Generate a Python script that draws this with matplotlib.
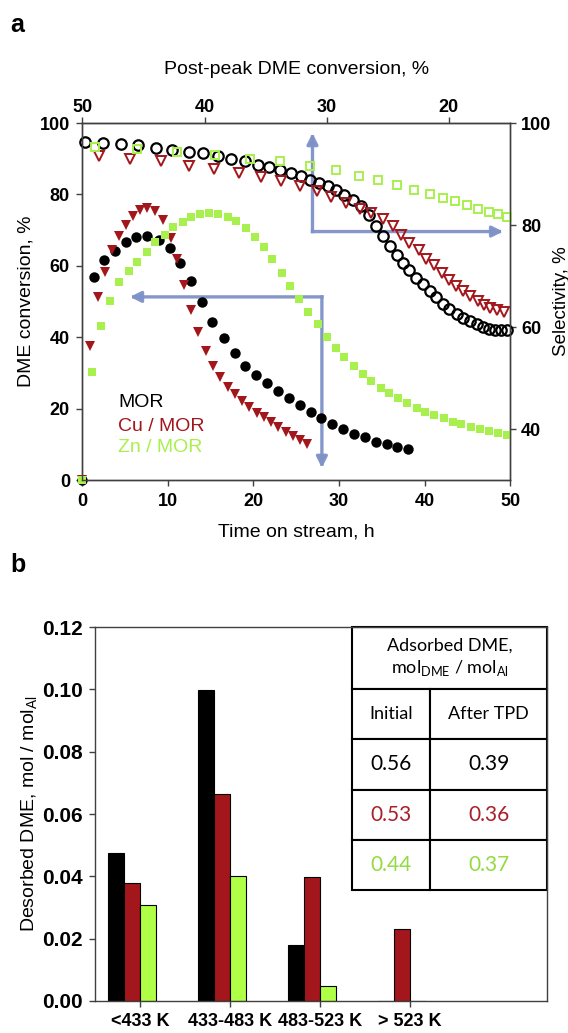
import numpy as np
import matplotlib
matplotlib.use("Agg")
import matplotlib.pyplot as plt

plt.rcParams['font.family'] = ['Liberation Sans', 'DejaVu Sans']

# ---------------- data: panel a ----------------
# DME conversion (%), filled markers
mor_t = [0, 1.3, 2.5, 3.8, 5.1, 6.3, 7.6, 8.9, 10.2, 11.4, 12.7, 14.0, 15.2, 16.5, 17.8,
         19.0, 20.3, 21.6, 22.9, 24.1, 25.4, 26.7, 27.9, 29.2, 30.5, 31.7, 33.0, 34.3,
         35.6, 36.8, 38.1]
mor_conv = [0, 57.0, 61.6, 64.2, 66.6, 68.0, 68.3, 67.2, 65.1, 60.9, 55.7, 49.9, 44.3, 39.7,
            35.5, 31.9, 29.4, 27.1, 24.9, 22.9, 21.0, 19.1, 17.3, 15.7, 14.2, 12.9, 12.0,
            10.7, 10.1, 9.3, 8.7]

cu_t = [0, 0.9, 1.8, 2.6, 3.5, 4.3, 5.1, 5.9, 6.7, 7.6, 8.5, 9.4, 10.3, 11.1, 11.9, 12.7,
        13.5, 14.4, 15.3, 16.1, 17.0, 17.8, 18.6, 19.5, 20.4, 21.2, 22.0, 22.9, 23.8,
        24.6, 25.4, 26.2]
cu_conv = [0, 37.5, 51.3, 58.4, 64.3, 68.3, 71.4, 74.0, 75.6, 76.1, 75.4, 72.8, 67.9, 61.8,
           54.5, 47.7, 41.4, 36.2, 31.9, 28.9, 26.1, 24.0, 22.1, 20.5, 18.9, 17.6, 16.3,
           14.9, 13.5, 12.3, 11.2, 10.1]

zn_t = [0, 1.1, 2.2, 3.2, 4.3, 5.4, 6.4, 7.5, 8.5, 9.6, 10.6, 11.7, 12.7, 13.8, 14.8, 15.9,
        17.0, 18.0, 19.1, 20.2, 21.2, 22.2, 23.3, 24.3, 25.3, 26.4, 27.5, 28.6, 29.6,
        30.6, 31.7, 32.8, 33.8, 34.9, 35.9, 36.9, 38.0, 39.1, 40.1, 41.1, 42.3, 43.3,
        44.3, 45.4, 46.5, 47.6, 48.6, 49.7]
zn_conv = [0, 30.3, 43.2, 50.2, 55.5, 58.6, 61.2, 63.8, 66.6, 68.7, 70.8, 72.4, 73.8, 74.4,
           74.7, 74.4, 73.8, 72.5, 70.5, 68.2, 65.4, 61.8, 58.1, 54.4, 50.6, 47.1, 43.6,
           40.1, 37.1, 34.4, 31.9, 29.7, 27.7, 25.9, 24.3, 22.9, 21.5, 20.3, 19.1, 18.2,
           17.3, 16.3, 15.7, 14.9, 14.3, 13.7, 13.1, 12.6]

# Selectivity (%), open markers
mor_sel_t = [0.3, 2.4, 4.5, 6.5, 8.6, 10.5, 12.4, 14.1, 15.9, 17.4, 19.0, 20.5, 21.8, 23.1,
             24.4, 25.5, 26.6, 27.7, 28.7, 29.6, 30.6, 31.6, 32.6, 33.5, 34.3, 35.2, 36.0,
             36.8, 37.5, 38.2, 39.0, 39.8, 40.6, 41.4, 42.2, 42.9, 43.8, 44.5, 45.3, 46.1,
             46.8, 47.5, 48.2, 48.9, 49.6]
mor_sel = [96.2, 96.0, 95.9, 95.6, 95.1, 94.8, 94.4, 94.1, 93.5, 93.0, 92.5, 91.8, 91.4,
           90.7, 90.2, 89.6, 88.9, 88.3, 87.6, 86.8, 85.8, 84.9, 83.7, 81.9, 79.9, 77.8,
           75.9, 74.2, 72.6, 71.2, 69.7, 68.4, 67.0, 65.8, 64.5, 63.6, 62.5, 61.7, 61.1,
           60.5, 60.1, 59.7, 59.5, 59.4, 59.4]

cu_sel_t = [1.9, 5.6, 9.2, 12.4, 15.4, 18.3, 20.9, 23.2, 25.4, 27.4, 29.1, 30.8, 32.4, 33.8,
            35.1, 36.3, 37.3, 38.2, 39.3, 40.2, 41.1, 42.0, 42.9, 43.7, 44.5, 45.3, 46.2,
            46.9, 47.7, 48.5, 49.3]
cu_sel = [93.5, 93.0, 92.5, 91.6, 91.0, 90.3, 89.4, 88.6, 87.6, 86.6, 85.5, 84.3, 83.2, 82.4,
          81.1, 79.8, 78.0, 76.5, 75.1, 73.4, 72.1, 70.6, 69.3, 68.1, 67.0, 66.1, 65.1,
          64.4, 63.8, 63.3, 63.0]

zn_sel_t = [1.5, 6.4, 11.0, 15.5, 19.6, 23.1, 26.6, 29.6, 32.3, 34.6, 36.8, 38.8, 40.6,
            42.2, 43.6, 45.0, 46.3, 47.6, 48.6, 49.6]
zn_sel = [95.3, 95.0, 94.4, 93.8, 93.0, 92.5, 91.5, 90.7, 89.7, 88.8, 87.9, 86.9, 86.0,
          85.3, 84.7, 83.9, 83.2, 82.6, 82.1, 81.6]

top_ticks = [50, 40, 30, 20]
left_ticks = [0, 20, 40, 60, 80, 100]
right_ticks = [40, 60, 80, 100]
bottom_ticks = [0, 10, 20, 30, 40, 50]
legend_names = ['MOR', 'Cu / MOR', 'Zn / MOR']

# ---------------- data: panel b ----------------
ranges = ['<433 K', '433-483 K', '483-523 K', '> 523 K']
des_mor = [0.0474, 0.0997, 0.0180, 0.0]
des_cu = [0.0380, 0.0664, 0.0399, 0.0231]
des_zn = [0.0308, 0.0401, 0.0049, 0.0]
des_yticks = [0, 0.02, 0.04, 0.06, 0.08, 0.10, 0.12]
table_header = 'Adsorbed DME,\nmol$_\\mathregular{DME}$ / mol$_\\mathregular{Al}$'
table_cols = ['Initial', 'After TPD']
ads_initial = ['0.56', '0.53', '0.44']
ads_after = ['0.39', '0.36', '0.37']

# ---------------- style ----------------
BLACK = '#000000'
RED = '#A3161B'
GREEN = '#A8F04E'
BAR_GREEN = '#AEFF45'
TXT_GREEN = '#93DB40'
ARROW = '#7F92C8'
SPINE = '#404040'

fig = plt.figure(figsize=(5.68, 10.33), dpi=100)

# ================= panel a =================
ax = fig.add_axes([0.1452, 0.5353, 0.7527, 0.3456])
ax.set_xlim(0, 50)
ax.set_ylim(0, 100)
ax2 = ax.twinx()
ax2.set_ylim(30, 100)

for a in (ax, ax2):
    for s in a.spines.values():
        s.set_color(SPINE)
        s.set_linewidth(1.0)

# arrows
apro = dict(arrowstyle='-|>', color=ARROW, lw=2.4, mutation_scale=16, alpha=0.95,
            shrinkA=0, shrinkB=0, capstyle='projecting')
ax.annotate('', xy=(5.55, 51.3), xytext=(28.0, 51.3), arrowprops=apro, zorder=1)
ax.annotate('', xy=(28.0, 3.4), xytext=(28.0, 51.3), arrowprops=apro, zorder=1)
ax.annotate('', xy=(26.9, 97.2), xytext=(26.9, 69.6), arrowprops=apro, zorder=1)
ax.annotate('', xy=(49.2, 69.6), xytext=(26.9, 69.6), arrowprops=apro, zorder=1)

ax.plot(mor_t, mor_conv, 'o', color=BLACK, ms=7.5, mew=0, clip_on=False, zorder=3)
ax.plot(cu_t, cu_conv, 'v', color=RED, ms=7.5, mew=0, clip_on=False, zorder=3)
ax.plot(zn_t, zn_conv, 's', color=GREEN, ms=5.8, mew=0, clip_on=False, zorder=3)

ax2.plot(mor_sel_t, mor_sel, 'o', mfc='none', mec=BLACK, ms=7.5, mew=1.6, clip_on=False)
ax2.plot(cu_sel_t, cu_sel, 'v', mfc='none', mec=RED, ms=7.5, mew=1.4, clip_on=False)
ax2.plot(zn_sel_t, zn_sel, 's', mfc='none', mec=GREEN, ms=6.3, mew=1.4, clip_on=False)

ax.set_xticks(bottom_ticks)
ax.set_yticks(left_ticks)
ax2.set_yticks(right_ticks)
tick_kw = dict(direction='out', length=4, width=1, color=SPINE, labelsize=13)
ax.tick_params(axis='both', pad=5, **tick_kw)
ax2.tick_params(axis='y', pad=4, **tick_kw)
for lab in ax.get_xticklabels() + ax.get_yticklabels() + ax2.get_yticklabels():
    lab.set_fontweight('bold')

secx = ax.secondary_xaxis('top', functions=(lambda t: 50 - 0.7 * t, lambda c: (50 - c) / 0.7))
secx.set_xticks(top_ticks)
secx.tick_params(axis='x', pad=1, **tick_kw)
secx.spines['top'].set_color(SPINE)
for lab in secx.get_xticklabels():
    lab.set_fontweight('bold')
secx.set_xlabel('Post-peak DME conversion, %', fontsize=14, labelpad=18)

ax.set_xlabel('Time on stream, h', fontsize=14, labelpad=10)
ax.set_ylabel('DME conversion, %', fontsize=14, labelpad=4)
ax2.set_ylabel('Selectivity, %', fontsize=13.5, labelpad=1)

for name, col, yv in zip(legend_names, [BLACK, RED, GREEN], [21.6, 14.9, 9.0]):
    ax.text(4.15, yv, name, color=col, fontsize=14, va='center', ha='left')

fig.text(0.018, 0.976, 'a', fontsize=18, fontweight='bold', va='center', ha='left')
fig.text(0.018, 0.453, 'b', fontsize=18, fontweight='bold', va='center', ha='left')

# ================= panel b =================
bx = fig.add_axes([0.1673, 0.031, 0.7958, 0.362])
x = np.arange(len(ranges))
w = 0.178
bx.bar(x - 1.5 * w, des_mor, w, align='center', color=BLACK, edgecolor='black', lw=0.8)
bx.bar(x - 0.5 * w, des_cu, w, align='center', color=RED, edgecolor='black', lw=0.8)
bx.bar(x + 0.5 * w, des_zn, w, align='center', color=BAR_GREEN, edgecolor='black', lw=0.8)
bx.set_xlim(-0.5, 4.52)
bx.set_ylim(0, 0.12)
bx.set_xticks(x)
bx.set_xticklabels(ranges, fontweight='bold', fontsize=13)
bx.set_yticks(des_yticks)
bx.set_yticklabels(['%.2f' % v for v in des_yticks], fontweight='bold', fontsize=15)
bx.tick_params(axis='both', direction='out', length=4, width=1, color=SPINE, pad=5)
for s in bx.spines.values():
    s.set_color(SPINE)
    s.set_linewidth(1.0)
bx.set_ylabel('Desorbed DME, mol / mol$_\\mathregular{Al}$', fontsize=14, labelpad=1)

TFONT = ['Lato', 'DejaVu Sans']
hdr = bx.table(cellText=[[table_header]], cellLoc='center',
               bbox=[0.5686, 0.834, 0.4314, 0.166])
hdr.auto_set_font_size(False)
for c in hdr.get_celld().values():
    c.set_linewidth(1.5)
    c.get_text().set_fontsize(13)
    c.get_text().set_fontfamily(TFONT)
    c.get_text().set_linespacing(1.3)

body_rows = [table_cols] + [[a, b] for a, b in zip(ads_initial, ads_after)]
body = bx.table(cellText=body_rows, cellLoc='center', colWidths=[0.4, 0.6],
                bbox=[0.5686, 0.297, 0.4314, 0.537])
body.auto_set_font_size(False)
row_cols = [BLACK, BLACK, '#A8202A', TXT_GREEN]
for (r, cidx), c in body.get_celld().items():
    c.set_linewidth(1.5)
    t = c.get_text()
    t.set_fontfamily(TFONT)
    t.set_fontsize(13 if r == 0 else 15)
    t.set_color(row_cols[r])

fig.savefig('out.png', dpi=100)
